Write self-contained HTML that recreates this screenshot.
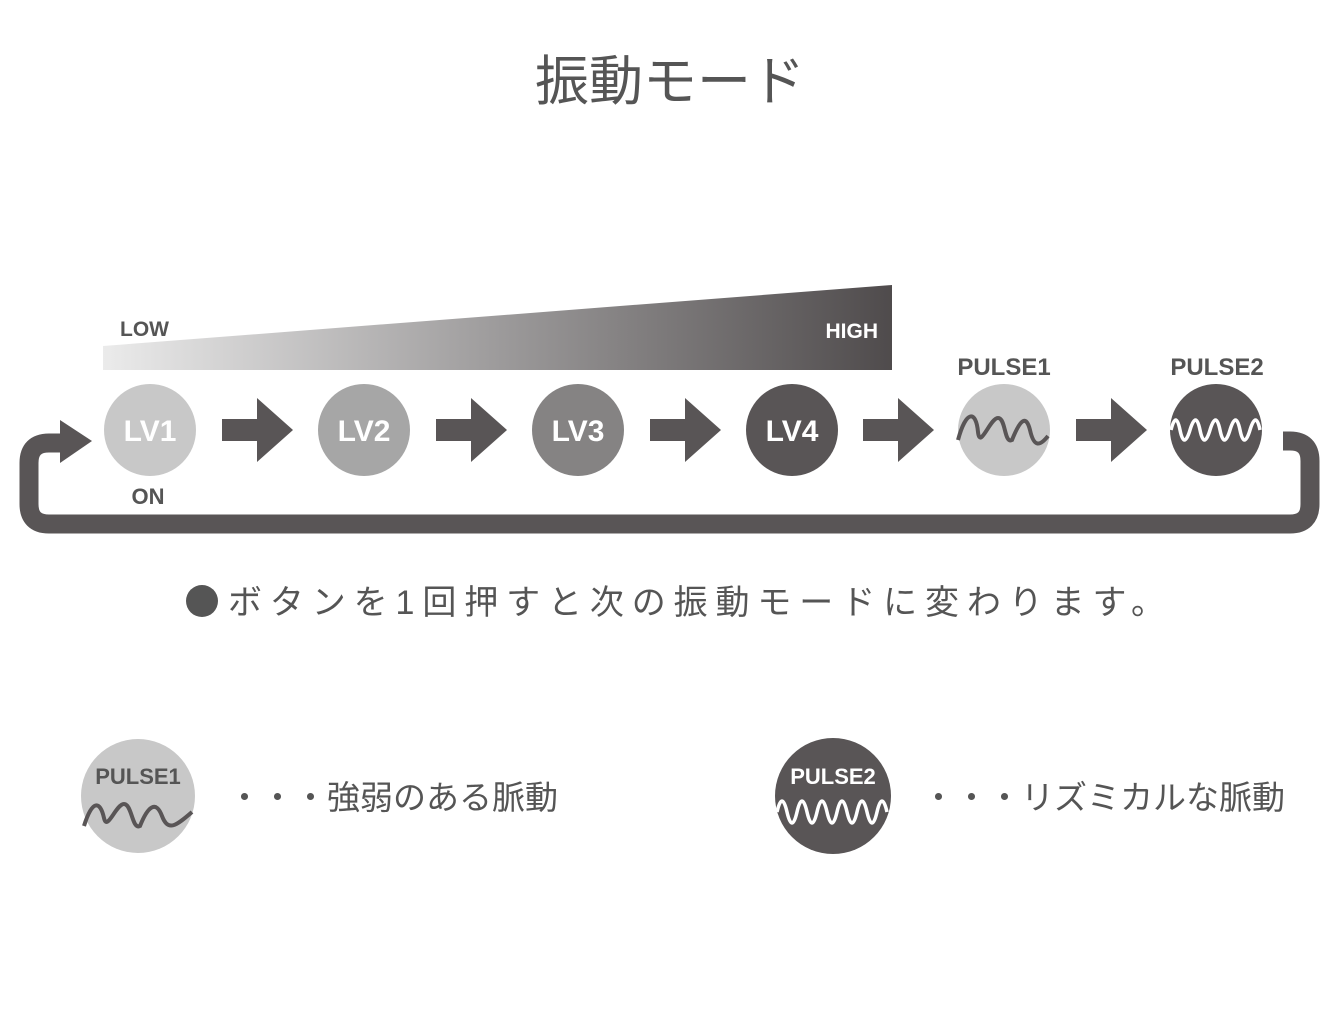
<!DOCTYPE html>
<html><head><meta charset="utf-8"><style>
body{margin:0;background:#fff;width:1340px;height:1020px;overflow:hidden}
svg text{font-family:"Liberation Sans","Noto Sans CJK JP",sans-serif}
</style></head><body>
<svg width="1340" height="1020" viewBox="0 0 1340 1020" xmlns="http://www.w3.org/2000/svg">
<defs>
<linearGradient id="g" x1="0" x2="1" y1="0" y2="0">
<stop offset="0" stop-color="#ebebeb"/><stop offset="1" stop-color="#4f4b4c"/>
</linearGradient>
</defs>
<text x="670" y="100" text-anchor="middle" font-size="54" fill="#555">振動モード</text>
<polygon points="103,346 892,285 892,370 103,370" fill="url(#g)"/>
<text x="120" y="336" font-size="21" font-weight="bold" fill="#555">LOW</text>
<text x="878" y="338" text-anchor="end" font-size="21" font-weight="bold" fill="#fff">HIGH</text>
<text x="1004" y="375" text-anchor="middle" font-size="24" font-weight="bold" fill="#555">PULSE1</text>
<text x="1217" y="375" text-anchor="middle" font-size="24" font-weight="bold" fill="#555">PULSE2</text>
<path d="M1283,441 H1290 Q1310,441 1310,461 V504 Q1310,524 1290,524 H49 Q29,524 29,504 V463 Q29,443 49,443 H64" fill="none" stroke="#595556" stroke-width="19"/>
<polygon points="60,420 92,441 60,463" fill="#595556"/>
<circle cx="150" cy="430" r="46" fill="#c8c8c8"/>
<circle cx="364" cy="430" r="46" fill="#a6a6a6"/>
<circle cx="578" cy="430" r="46" fill="#858383"/>
<circle cx="792" cy="430" r="46" fill="#595556"/>
<circle cx="1004" cy="430" r="46" fill="#c8c8c8"/>
<circle cx="1216" cy="430" r="46" fill="#595556"/>
<g font-size="30" fill="#fff" text-anchor="middle" font-weight="bold">
<text x="150" y="441">LV1</text><text x="364" y="441">LV2</text><text x="578" y="441">LV3</text><text x="792" y="441">LV4</text>
</g>
<text x="148" y="504" text-anchor="middle" font-size="22" font-weight="bold" fill="#555">ON</text>
<path d="M958,440 C966,410 976,410 978,432 C980,450 990,418 998,418 C1006,418 1004,444 1012,440 C1020,420 1026,414 1030,430 C1034,448 1040,446 1048,436" fill="none" stroke="#595556" stroke-width="4"/>
<path d="M1171,430 Q1176,410 1180,430 T1190,430 T1200,430 T1210,430 T1220,430 T1230,430 T1240,430 T1250,430 T1260,430" fill="none" stroke="#fff" stroke-width="3.5"/>
<g fill="#595556">
<path d="M222,419 H257 V398 L293,430 L257,462 V441 H222Z"/>
<path d="M436,419 H471 V398 L507,430 L471,462 V441 H436Z"/>
<path d="M650,419 H685 V398 L721,430 L685,462 V441 H650Z"/>
<path d="M863,419 H898 V398 L934,430 L898,462 V441 H863Z"/>
<path d="M1076,419 H1111 V398 L1147,430 L1111,462 V441 H1076Z"/>
</g>
<circle cx="202" cy="601" r="16" fill="#555"/>
<text x="228" y="614" font-size="34" fill="#555" textLength="937">ボタンを1回押すと次の振動モードに変わります。</text>
<circle cx="138" cy="796" r="57" fill="#c8c8c8"/>
<text x="138" y="784" text-anchor="middle" font-size="22" font-weight="bold" fill="#555">PULSE1</text>
<path d="M84,826 C92,800 100,800 104,818 C107,832 116,804 124,804 C132,804 132,830 140,826 C148,806 156,800 162,816 C168,832 176,826 192,812" fill="none" stroke="#595556" stroke-width="4"/>
<text x="228" y="809" font-size="33" fill="#555">・・・強弱のある脈動</text>
<circle cx="833" cy="796" r="58" fill="#595556"/>
<text x="833" y="784" text-anchor="middle" font-size="22" font-weight="bold" fill="#fff">PULSE2</text>
<path d="M777,812 Q782,790 787,812 T797,812 T807,812 T817,812 T827,812 T837,812 T847,812 T857,812 T867,812 T877,812 T887,812" fill="none" stroke="#fff" stroke-width="3.5"/>
<text x="922" y="809" font-size="33" fill="#555">・・・リズミカルな脈動</text>
</svg>
</body></html>
